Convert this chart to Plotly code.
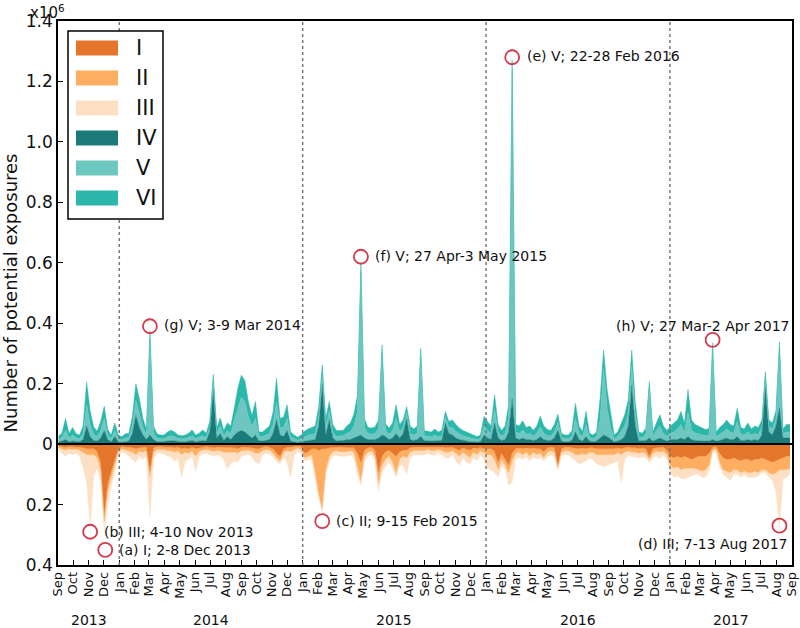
import pandas as pd
import plotly.graph_objects as go

# ---------------- data (weekly, thousands of potential exposures) ----------------
week_start = "2013-09-02"
n_weeks = 209

IV = [8,10,15,8,10,8,8,15,60,25, 12,10,20,45,15,8,25,8,6,8,
      10,35,95,55,30,15,30,15,8,8, 8,10,12,10,8,8,8,10,12,8,
      10,12,10,40,180,20,35,12,25,15, 30,40,45,40,30,20,30,10,10,12,
      15,35,80,30,25,45,10,8,5,8, 10,12,12,15,60,200,30,80,20,10,
      12,12,15,15,20,25,30,20,15,15, 15,20,30,25,15,20,35,20,35,85,
      15,12,15,25,12,10,10,12,10,12, 70,35,30,20,15,12,10,8,8,6,
      8,30,20,15,70,20,12,15,40,150, 20,15,20,15,15,12,15,25,15,12,
      12,20,45,10,8,8,12,40,15,10, 25,10,8,10,20,30,25,15,8,10,
      15,25,60,195,60,10,10,12,20,10, 15,20,15,10,15,15,15,20,15,25,
      15,12,12,10,10,10,15,10,12,15, 20,15,15,25,12,12,15,12,15,12,
      30,190,40,30,60,120,20,20,20]
V = [8,12,30,12,20,12,10,20,70,40, 20,15,25,40,15,10,20,10,8,12,
     12,25,50,45,25,15,320,20,12,10, 10,14,16,14,10,10,10,12,16,10,
     12,16,12,15,25,15,25,15,20,20, 50,80,110,100,60,40,55,15,14,18,
     20,30,60,25,30,40,14,10,8,10, 15,18,20,20,30,30,25,30,20,15,
     15,16,20,25,40,80,540,35,20,18, 20,30,270,20,18,25,50,20,20,20,
     20,18,20,270,15,15,14,18,14,16, 20,20,25,22,18,15,14,12,10,9,
     10,30,25,20,45,20,15,20,50,1090, 20,20,27,18,20,15,20,32,20,16,
     15,20,27,12,10,10,15,45,20,15, 40,12,10,14,60,220,90,40,10,14,
     25,35,40,65,40,14,12,20,170,15, 30,40,20,15,20,25,35,45,25,80,
     30,25,22,20,18,20,300,15,20,25, 30,25,22,50,20,18,25,18,20,20,
     25,25,20,20,25,190,15,20,20]
VI = [10,15,40,15,25,14,12,25,75,45, 25,18,30,40,18,12,25,12,10,14,
      14,30,55,50,30,20,25,25,14,12, 12,16,18,16,12,10,12,14,19,12,
      14,19,14,20,26,18,26,18,25,25, 40,65,73,70,50,35,56,15,16,20,
      25,40,78,30,35,45,16,12,10,12, 18,20,23,25,35,32,30,31,25,20,
      18,18,25,30,40,55,30,30,20,20, 22,30,28,22,20,25,45,25,25,19,
      25,20,25,22,18,18,16,20,16,18, 18,20,25,23,20,18,16,14,12,10,
      12,32,30,25,48,25,18,25,40,30, 25,25,30,22,25,18,25,35,25,20,
      18,25,27,14,12,12,18,50,25,17, 43,14,12,16,70,61,65,45,12,16,
      30,37,45,51,40,16,14,20,17,15, 25,37,25,20,25,30,30,43,30,75,
      35,28,25,22,20,22,20,15,23,25, 30,25,23,44,23,20,30,20,25,23,
      25,25,20,20,25,28,15,25,25]

I = [6,8,10,8,8,8,10,12,15,15, 15,25,60,230,130,90,50,15,8,8,
     10,12,15,12,12,10,90,12,8,8, 8,10,10,12,10,15,12,15,10,15,
     12,10,8,10,12,10,10,12,12,10, 12,15,10,10,10,12,15,15,10,8,
     10,15,30,40,15,10,10,8,6,8, 30,25,15,15,20,15,15,12,10,10,
     10,10,10,10,12,30,60,20,12,10, 20,90,40,25,20,30,40,25,20,20,
     12,10,10,10,10,8,10,10,8,10, 12,12,10,15,20,12,15,20,12,15,
     10,15,15,15,25,60,30,50,70,30, 15,12,15,12,15,12,15,15,25,12,
     10,12,70,15,10,10,12,15,15,12, 15,12,12,15,15,15,15,15,15,12,
     15,12,10,12,12,15,12,15,40,15, 12,12,10,20,40,45,40,45,40,45,
     50,45,40,40,40,30,10,8,30,45, 50,50,45,50,55,50,50,55,50,50,
     45,50,55,60,55,50,45,40,40]
II = [6,8,10,8,10,8,10,15,20,20, 20,20,25,25,25,20,15,10,8,10,
      12,15,20,12,15,12,20,15,10,10, 10,12,12,15,12,20,15,15,12,25,
      12,10,10,10,12,12,12,15,15,15, 15,15,12,12,10,12,15,15,12,10,
      10,15,15,15,12,12,15,10,8,10, 15,15,20,80,145,200,70,30,15,12,
      15,15,15,12,15,45,60,20,15,12, 20,40,30,25,20,30,55,25,20,25,
      15,12,12,12,12,10,12,12,10,12, 15,15,12,15,20,15,20,25,15,20,
      12,15,20,20,25,25,20,20,25,25, 15,15,20,15,25,15,20,15,20,15,
      12,15,10,12,12,12,15,20,20,20, 20,15,15,20,20,20,20,20,20,15,
      20,15,12,15,15,15,15,15,10,15, 12,15,12,15,30,35,35,40,40,35,
      30,35,45,50,45,40,10,8,30,40, 40,45,40,35,40,40,45,40,40,45,
      40,35,40,40,40,35,40,45,40]
III = [8,14,20,14,17,14,20,50,90,235, 70,35,35,35,45,30,20,15,10,12,
       18,23,25,16,23,18,130,23,12,12, 14,18,20,30,25,75,30,20,18,50,
       16,14,12,15,16,14,16,25,55,40, 30,30,18,15,12,20,30,35,15,12,
       12,12,12,10,15,40,85,20,10,12, 10,12,15,15,15,10,15,18,15,14,
       15,15,15,14,18,25,15,15,13,12, 15,25,20,25,20,20,15,20,30,55,
       18,14,14,16,14,12,14,15,12,14, 18,20,15,25,30,18,25,20,18,20,
       15,20,45,50,45,25,20,15,40,70, 20,18,15,15,15,15,15,15,10,15,
       14,15,5,10,12,14,20,20,30,30, 20,20,25,30,35,40,35,30,25,30,
       90,25,15,15,15,15,15,15,10,15, 15,20,15,15,25,30,30,30,35,30,
       25,20,15,20,25,20,8,8,15,15, 20,25,15,15,15,10,15,15,20,10,
       10,10,15,20,60,190,30,25,20]

series_names = ["I", "II", "III", "IV", "V", "VI"]
series_colors = ["#e4762c", "#fdae61", "#fde0c4", "#1b7b7b", "#6dc6c0", "#2bb8ab"]

# labelled extreme weeks: label, circled date, circled value (millions)
ann_labels = ["(a) I; 2-8 Dec 2013", "(b) III; 4-10 Nov 2013", "(c) II; 9-15 Feb 2015",
              "(d) III; 7-13 Aug 2017", "(e) V; 22-28 Feb 2016", "(f) V; 27 Apr-3 May 2015",
              "(g) V; 3-9 Mar 2014", "(h) V; 27 Mar-2 Apr 2017"]
ann_dates = ["2013-12-04", "2013-11-04", "2015-02-09", "2017-08-07",
             "2016-02-22", "2015-04-27", "2014-03-03", "2017-03-27"]
ann_values = [-0.35, -0.29, -0.255, -0.27, 1.28, 0.62, 0.39, 0.345]

y_tickvals = [-0.4, -0.2, 0, 0.2, 0.4, 0.6, 0.8, 1.0, 1.2, 1.4]
y_ticktext = ["0.4", "0.2", "0", "0.2", "0.4", "0.6", "0.8", "1.0", "1.2", "1.4"]

x_start, x_end = "2013-09-01", "2017-09-01"

# ---------------- figure ----------------
dates = pd.date_range(week_start, periods=n_weeks, freq="7D")
FONT = "DejaVu Sans"

fig = go.Figure()
neg = {"I": I, "II": II, "III": III}
pos = {"IV": IV, "V": V, "VI": VI}
for name, color in zip(series_names, series_colors):
    if name in neg:
        y = [-v / 1000 for v in neg[name]]
        grp = "neg"
    else:
        y = [v / 1000 for v in pos[name]]
        grp = "pos"
    fig.add_trace(go.Scatter(x=dates, y=y, name=name, stackgroup=grp, mode="lines",
                             line=dict(width=0.5, color=color), fillcolor=color,
                             showlegend=False, hoverinfo="x+y+name"))

# circles
fig.add_trace(go.Scatter(x=pd.to_datetime(ann_dates), y=ann_values, mode="markers",
                         marker=dict(symbol="circle-open", size=14, color="#d23c4c",
                                     line=dict(width=1.8, color="#d23c4c")),
                         showlegend=False, hoverinfo="skip"))

# annotation text offsets (pixels)
ann_style = [
    dict(xanchor="left", xshift=12, yshift=0),
    dict(xanchor="left", xshift=12, yshift=0),
    dict(xanchor="left", xshift=12, yshift=0),
    dict(xanchor="right", xshift=10, yshift=-18),
    dict(xanchor="left", xshift=13, yshift=1),
    dict(xanchor="left", xshift=12, yshift=1),
    dict(xanchor="left", xshift=12, yshift=1),
    dict(xanchor="right", xshift=78, yshift=14),
]
annotations = []
for lab, d, v, st in zip(ann_labels, ann_dates, ann_values, ann_style):
    annotations.append(dict(x=d, y=v, xref="x", yref="y", text=lab, showarrow=False,
                            yanchor="middle", font=dict(family=FONT, size=14, color="#111"), **st))

# layout geometry helpers (pixels -> paper)
L, R, T, B = 58, 8, 21, 63
W, H = 800, 628
PW, PH = W - L - R, H - T - B
def px(xp):
    return (xp - L) / PW
def py(yp):
    return (H - B - yp) / PH

# year labels centred under each year's span
xs, xe = pd.Timestamp(x_start), pd.Timestamp(x_end)
for yr in range(xs.year, xe.year + 1):
    a = max(pd.Timestamp(f"{yr}-01-01"), xs)
    b = min(pd.Timestamp(f"{yr + 1}-01-01"), xe)
    mid = a + (b - a) / 2
    annotations.append(dict(x=mid, y=py(620), xref="x", yref="paper", text=str(yr),
                            showarrow=False, font=dict(family=FONT, size=14, color="#111"),
                            xanchor="center", yanchor="middle"))

# x10^6 multiplier
annotations.append(dict(x=px(28), y=py(0), xref="paper", yref="paper", text="x10<sup>6</sup>",
                        showarrow=False, xanchor="left", yanchor="top",
                        font=dict(family=FONT, size=15, color="#111")))

shapes = []
# year separators
for yr in range(xs.year + 1, xe.year + 1):
    shapes.append(dict(type="line", xref="x", yref="paper", x0=f"{yr}-01-01", x1=f"{yr}-01-01",
                       y0=0, y1=1, line=dict(color="#777777", width=1.5, dash="dot"), layer="above"))
# zero line
shapes.append(dict(type="line", xref="paper", yref="y", x0=0, x1=1, y0=0, y1=0,
                   line=dict(color="black", width=2), layer="above"))

# legend (drawn box)
shapes.append(dict(type="rect", xref="paper", yref="paper", x0=px(68), x1=px(163), y0=py(219), y1=py(31),
                   line=dict(color="black", width=1.5), fillcolor="white", layer="above"))
for k, (name, color) in enumerate(zip(series_names, series_colors)):
    yc = 48 + 30 * k
    shapes.append(dict(type="rect", xref="paper", yref="paper", x0=px(76), x1=px(118),
                       y0=py(yc + 7.5), y1=py(yc - 7.5), line=dict(width=0),
                       fillcolor=color, layer="above"))
    annotations.append(dict(x=px(134), y=py(yc), xref="paper", yref="paper", text=name,
                            showarrow=False, xanchor="left", yanchor="middle",
                            font=dict(family=FONT, size=21, color="#111")))

month_ticks = pd.date_range(x_start, x_end, freq="MS")

fig.update_layout(
    width=W, height=H,
    margin=dict(l=L, r=R, t=T, b=B, autoexpand=False),
    paper_bgcolor="white", plot_bgcolor="white",
    font=dict(family=FONT, color="#111"),
    showlegend=False,
    annotations=annotations,
    shapes=shapes,
    xaxis=dict(type="date", range=[x_start, x_end], tickmode="array",
               tickvals=month_ticks, ticktext=[d.strftime("%b") for d in month_ticks],
               tickangle=-90, ticks="inside", ticklen=5, tickwidth=1, tickcolor="black",
               tickfont=dict(family=FONT, size=13, color="#111"),
               showline=True, linecolor="black", linewidth=1.5, mirror=True,
               showgrid=False, zeroline=False, automargin=False),
    yaxis=dict(range=[-0.4, 1.4], tickmode="array", tickvals=y_tickvals, ticktext=y_ticktext,
               ticks="inside", ticklen=5, tickwidth=1, tickcolor="black",
               tickfont=dict(family=FONT, size=17, color="#111"),
               showline=True, linecolor="black", linewidth=1.5, mirror=True,
               showgrid=False, zeroline=False, automargin=False,
               title=dict(text="Number of potential exposures", standoff=4,
                          font=dict(family=FONT, size=18, color="#111"))),
)

fig.write_html("out.html", config={"displayModeBar": False},
               post_script="document.body.style.margin='0px';")
